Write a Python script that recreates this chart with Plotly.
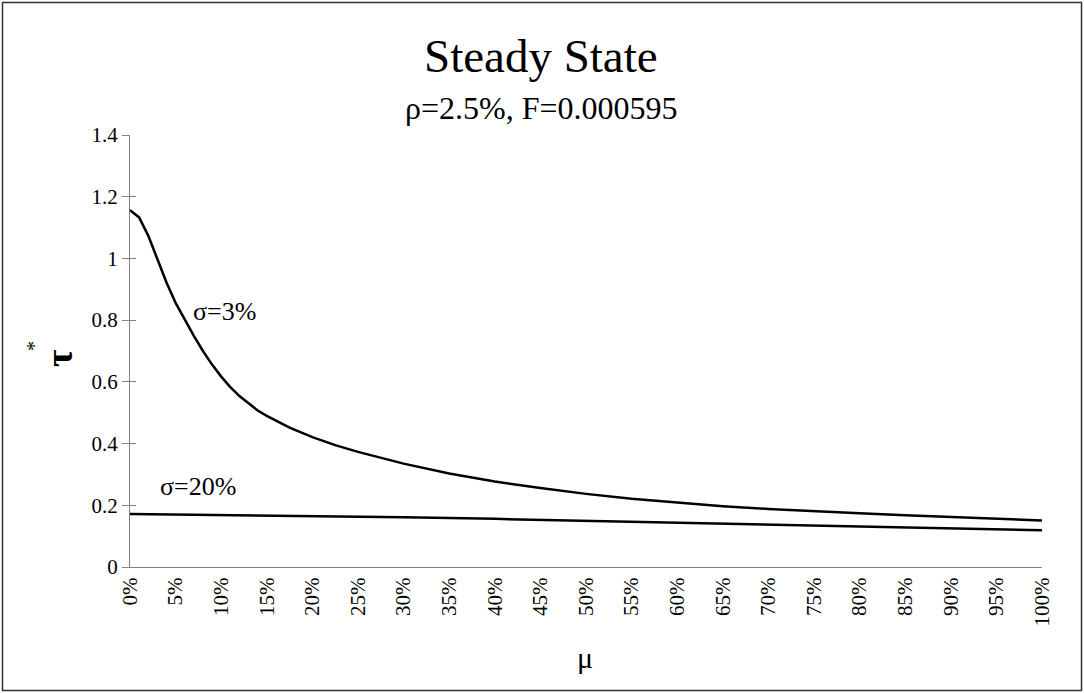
import plotly.graph_objects as go

# ---- data ----
mu_sigma3 = [0, 1, 2, 3, 4, 5, 6, 7, 8, 9, 10, 11, 12, 13, 14, 15, 17.5, 20, 22.5, 25, 27.5, 30,
             35, 40, 45, 50, 55, 60, 65, 70, 75, 80, 85, 90, 95, 100]
tau_sigma3 = [1.156, 1.133, 1.074, 0.997, 0.922, 0.856, 0.801, 0.749, 0.700, 0.656, 0.617, 0.583,
              0.554, 0.529, 0.507, 0.490, 0.452, 0.421, 0.395, 0.373, 0.353, 0.335,
              0.303, 0.277, 0.256, 0.237, 0.221, 0.208, 0.197, 0.188, 0.180, 0.174, 0.168, 0.162, 0.156, 0.151]

mu_sigma20 = [0, 10, 20, 30, 40, 50, 60, 70, 80, 90, 100]
tau_sigma20 = [0.172, 0.169, 0.165, 0.161, 0.156, 0.150, 0.143, 0.137, 0.131, 0.125, 0.119]

x_tick_vals = list(range(0, 101, 5))
x_tick_text = [f"{v}%" for v in x_tick_vals]
y_tick_vals = [0, 0.2, 0.4, 0.6, 0.8, 1.0, 1.2, 1.4]
y_tick_text = ["0", "0.2", "0.4", "0.6", "0.8", "1", "1.2", "1.4"]

title_text = "Steady State"
subtitle_text = "ρ=2.5%, F=0.000595"
label_sigma3 = "σ=3%"
label_sigma20 = "σ=20%"
y_title = "τ"
y_title_sup = "*"
x_title = "μ"

FONT = "Liberation Serif, Times New Roman, serif"
AXIS_COLOR = "#808080"

fig = go.Figure()
fig.add_trace(go.Scatter(x=mu_sigma3, y=tau_sigma3, mode="lines",
                         line=dict(color="black", width=2.5), hoverinfo="skip", showlegend=False))
fig.add_trace(go.Scatter(x=mu_sigma20, y=tau_sigma20, mode="lines",
                         line=dict(color="black", width=2.5), hoverinfo="skip", showlegend=False))
# invisible trace to carry the overlay axis that draws the inner half of crossing ticks
fig.add_trace(go.Scatter(x=[0], y=[0], yaxis="y2", mode="markers", marker=dict(opacity=0),
                         hoverinfo="skip", showlegend=False))

fig.update_layout(
    width=1084, height=693,
    margin=dict(l=130, r=42, t=135, b=126),
    paper_bgcolor="white", plot_bgcolor="white",
    font=dict(family=FONT, color="black", size=20),
    showlegend=False,
    xaxis=dict(range=[0, 100], tickvals=x_tick_vals, ticktext=x_tick_text, tickangle=-90,
               showgrid=False, zeroline=False, showline=True, linecolor=AXIS_COLOR, linewidth=1,
               ticks="", ticklen=0, ticklabelstandoff=1,
               tickfont=dict(family=FONT, size=21, color="black")),
    yaxis=dict(range=[0, 1.4], tickvals=y_tick_vals, ticktext=y_tick_text,
               showgrid=False, zeroline=False, showline=True, linecolor=AXIS_COLOR, linewidth=1,
               ticks="outside", ticklen=7, tickcolor=AXIS_COLOR, tickwidth=1,
               ticklabelstandoff=0,
               tickfont=dict(family=FONT, size=21, color="black")),
    yaxis2=dict(range=[0, 1.4], overlaying="y", side="left", tickvals=y_tick_vals,
                showticklabels=False, showgrid=False, zeroline=False, showline=False,
                ticks="inside", ticklen=6, tickcolor=AXIS_COLOR, tickwidth=1),
)

annos = [
    dict(text=title_text, xref="paper", yref="paper", x=0.4507, y=1.183,
         font=dict(family=FONT, size=47, color="black")),
    dict(text=subtitle_text, xref="paper", yref="paper", x=0.4507, y=1.0625,
         font=dict(family=FONT, size=32, color="black")),
    dict(text=label_sigma3, xref="x", yref="y", x=10.4, y=0.829,
         font=dict(family=FONT, size=26, color="black")),
    dict(text=label_sigma20, xref="x", yref="y", x=7.46, y=0.262,
         font=dict(family=FONT, size=26, color="black")),
    dict(text="<b>" + y_title + "</b>", xref="paper", yref="paper", x=(59 - 130) / 912,
         y=(567 - 358) / 432, textangle=-90, font=dict(family=FONT, size=38, color="black")),
    dict(text=y_title_sup, xref="paper", yref="paper", x=(34 - 130) / 912, y=(567 - 346) / 432,
         textangle=-90, font=dict(family=FONT, size=20, color="black")),
    dict(text=x_title, xref="paper", yref="paper", x=0.499, y=-0.2106,
         font=dict(family=FONT, size=30, color="black")),
]
for a in annos:
    a.update(showarrow=False, xanchor="center", yanchor="middle")
    fig.add_annotation(**a)

# outer chart border
fig.add_shape(type="rect", xref="paper", yref="paper",
              x0=(2.5 - 130) / 912, x1=(1081.5 - 130) / 912,
              y0=(567 - 690.5) / 432, y1=(567 - 2.5) / 432,
              line=dict(color="#333333", width=1.5), fillcolor="rgba(0,0,0,0)", layer="below")

fig.write_html("out.html", config={"displayModeBar": False},
               post_script="document.body.style.margin='0';document.body.style.overflow='hidden';")
